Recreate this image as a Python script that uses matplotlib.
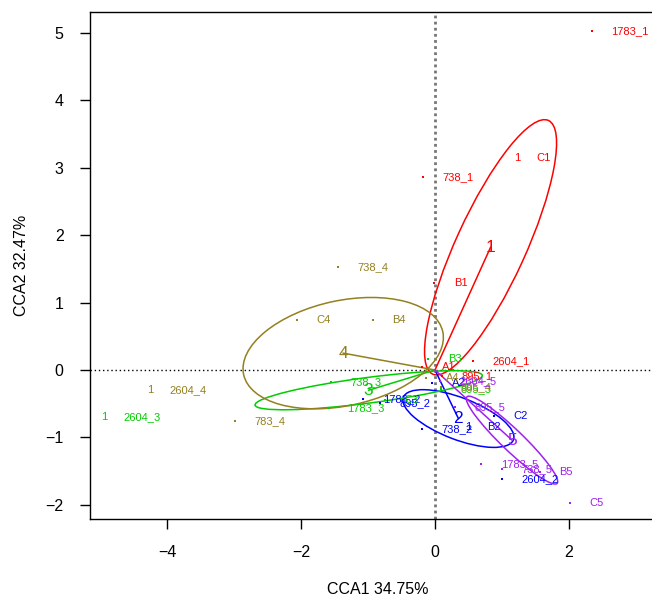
import numpy as np
import matplotlib
matplotlib.use('Agg')
import matplotlib.pyplot as plt
from matplotlib.patches import Ellipse

plt.rcParams['font.family'] = ['Liberation Sans', 'DejaVu Sans']

# sites (CCA scores)
site_labels = ['1783_1', '738_1', 'C1', 'B1', 'A1', '895_1', '2604_1',
               '1783_2', '895_2', '738_2', 'B2', 'C2', 'A2', '2604_2',
               'B3', '895_3', '738_3', '1783_3', '2604_3', 'C3',
               '738_4', 'C4', 'B4', '2604_4', '783_4', 'A4', '895_4',
               '1783_5', '738_5', 'B5', 'C5', '895_5', '2604_5']
site_x = [2.34, -0.18, 1.23, -0.01, -0.19, 0.10, 0.57,
          -1.07, -0.82, -0.19, 0.49, 0.88, -0.04, 1.00,
          -0.10, 0.09, -1.55, -1.60, -4.94, -0.75,
          -1.45, -2.06, -0.93, -4.25, -2.99, -0.13, 0.09,
          0.69, 1.00, 1.57, 2.01, 0.30, 0.07]
site_y = [5.03, 2.86, 3.15, 1.29, 0.04, -0.09, 0.13,
          -0.43, -0.49, -0.88, -0.85, -0.68, -0.19, -1.62,
          0.16, -0.28, -0.18, -0.56, -0.70, -0.45,
          1.53, 0.74, 0.74, -0.30, -0.76, -0.12, -0.25,
          -1.39, -1.47, -1.51, -1.97, -0.55, -0.16]
site_group = [1, 1, 1, 1, 1, 1, 1,
              2, 2, 2, 2, 2, 2, 2,
              3, 3, 3, 3, 3, 3,
              4, 4, 4, 4, 4, 4, 4,
              5, 5, 5, 5, 5, 5]
# sites drawn with the character "1" instead of a dot
one_marker = ['C1', 'B2', '2604_3', '2604_4']

# class centroids and ellipses
groups = [1, 2, 3, 4, 5]
cent_x = [0.83, 0.35, -0.99, -1.37, 1.15]
cent_y = [1.82, -0.72, -0.30, 0.25, -1.04]
ell_a = [2.07, 0.88, 1.71, 1.52, 0.93]
ell_b = [0.52, 0.31, 0.19, 0.78, 0.16]
ell_ang = [65.3, -21.0, 7.4, 12.0, -43.6]
colors = {1: '#FF0000', 2: '#0000FF', 3: '#00CD00', 4: '#93801F', 5: '#A020F0'}

fig = plt.figure(figsize=(6.52, 5.99), dpi=100)
ax = fig.add_axes([90/652, 80/599, 562/652, 507/599])
ax.set_xlim(-5.15, 3.24)
ax.set_ylim(-2.21, 5.31)

ax.axhline(0, color='black', lw=1, ls=(0, (1, 2)), zorder=1)
ax.axvline(0, color='#777777', lw=2, ls=(0, (1, 1.2)), zorder=1)

for i, g in enumerate(groups):
    c = colors[g]
    ax.add_patch(Ellipse((cent_x[i], cent_y[i]), 2*ell_a[i], 2*ell_b[i],
                         angle=ell_ang[i], fill=False, ec=c, lw=1.1, zorder=2))
    ax.plot([0, cent_x[i]], [0, cent_y[i]], color=c, lw=1.1, zorder=2)
    ax.text(cent_x[i], cent_y[i], str(g), color=c, fontsize=12.5,
            ha='center', va='center', zorder=4)

for lab, x, y, g in zip(site_labels, site_x, site_y, site_group):
    c = colors[g]
    if lab in one_marker:
        ax.text(x, y, '1', color=c, fontsize=8, ha='center', va='center', zorder=3)
    else:
        ax.plot(x, y, 's', color=c, ms=1.6, mew=0, zorder=3)
    ax.annotate(lab, (x, y), xytext=(14, 0), textcoords='offset points',
                color=c, fontsize=8, ha='left', va='center', zorder=3)

ax.spines['right'].set_visible(False)
for s in ['left', 'bottom', 'top']:
    ax.spines[s].set_linewidth(1)
ax.set_xticks([-4, -2, 0, 2])
ax.set_yticks([-2, -1, 0, 1, 2, 3, 4, 5])
ax.tick_params(direction='out', length=7, width=1, labelsize=11.5, pad=12)

fig.text(378/652, 1 - 590/599, 'CCA1 34.75%', ha='center', va='center', fontsize=11.5)
fig.text(22/652, 1 - 265/599, 'CCA2 32.47%', ha='center', va='center',
         fontsize=11.5, rotation=90)

fig.savefig('out.png', dpi=100)
